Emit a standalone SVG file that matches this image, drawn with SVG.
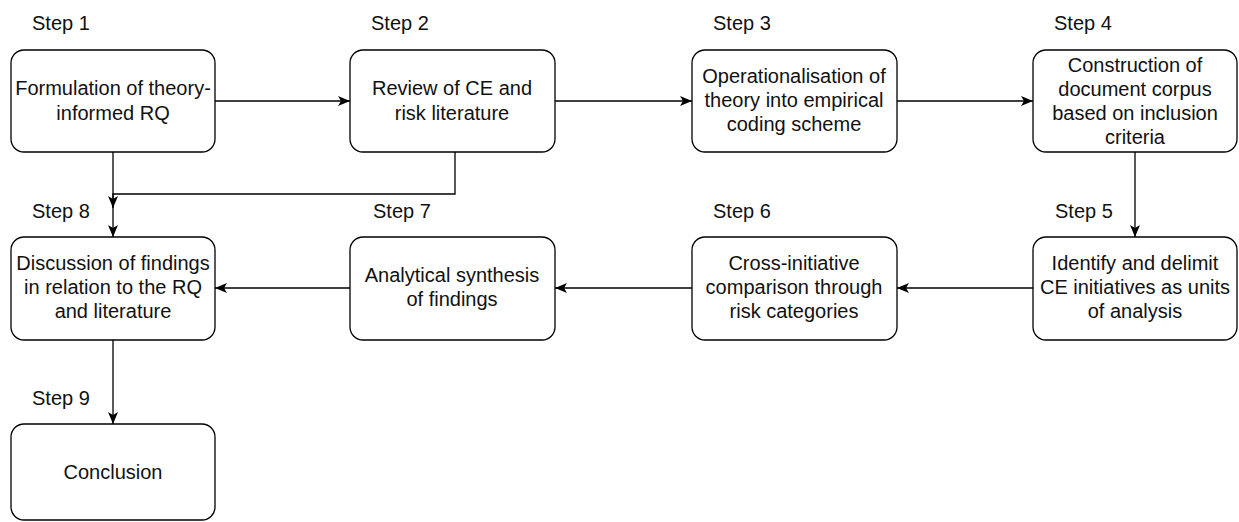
<svg xmlns="http://www.w3.org/2000/svg" width="1239" height="522" viewBox="0 0 1239 522">
<style>
.box{fill:#fff;stroke:#000;stroke-width:1.3}
.t{font-family:"Liberation Sans",Arial,sans-serif;font-size:20px;fill:#111;text-anchor:middle}
.s{font-family:"Liberation Sans",Arial,sans-serif;font-size:20px;fill:#111}
.e{fill:none;stroke:#000;stroke-width:1.3}
</style>
<defs>
<marker id="arr" markerUnits="userSpaceOnUse" markerWidth="13" markerHeight="11" refX="12" refY="5.5" orient="auto">
<path d="M0,0.5 L12,5.5 L0,10.5 L3,5.5 Z" fill="#000"/>
</marker>
</defs>
<rect width="1239" height="522" fill="#fff"/>
<g id="labels">
<text class="s" x="32" y="30">Step 1</text>
<text class="s" x="371" y="30">Step 2</text>
<text class="s" x="713" y="30">Step 3</text>
<text class="s" x="1054" y="30">Step 4</text>
<text class="s" x="1055" y="218">Step 5</text>
<text class="s" x="713" y="218">Step 6</text>
<text class="s" x="373" y="218">Step 7</text>
<text class="s" x="32" y="218">Step 8</text>
<text class="s" x="32" y="405">Step 9</text>
</g>
<g id="connectors">
<line class="e" x1="215" y1="101" x2="350" y2="101" marker-end="url(#arr)"/>
<line class="e" x1="555" y1="101" x2="692" y2="101" marker-end="url(#arr)"/>
<line class="e" x1="897" y1="101" x2="1033" y2="101" marker-end="url(#arr)"/>
<line class="e" x1="1135" y1="152" x2="1135" y2="237" marker-end="url(#arr)"/>
<line class="e" x1="1033" y1="288" x2="897" y2="288" marker-end="url(#arr)"/>
<line class="e" x1="692" y1="288" x2="555" y2="288" marker-end="url(#arr)"/>
<line class="e" x1="350" y1="288" x2="215" y2="288" marker-end="url(#arr)"/>
<line class="e" x1="113" y1="152" x2="113" y2="237" marker-end="url(#arr)"/>
<polyline class="e" points="455,152 455,194 113,194 113,208" marker-end="url(#arr)"/>
<line class="e" x1="113" y1="340" x2="113" y2="424" marker-end="url(#arr)"/>
</g>
<g id="n1"><rect class="box" x="11" y="50" width="204" height="102" rx="13"/>
<text class="t" x="113" y="95">Formulation of theory-</text><text class="t" x="113" y="120">informed RQ</text></g>
<g id="n2"><rect class="box" x="350" y="50" width="205" height="102" rx="13"/>
<text class="t" x="452" y="95">Review of CE and</text><text class="t" x="452" y="120">risk literature</text></g>
<g id="n3"><rect class="box" x="692" y="50" width="205" height="102" rx="13"/>
<text class="t" x="794" y="83">Operationalisation of</text><text class="t" x="794" y="107">theory into empirical</text><text class="t" x="794" y="131">coding scheme</text></g>
<g id="n4"><rect class="box" x="1033" y="50" width="204" height="102" rx="13"/>
<text class="t" x="1135" y="72">Construction of</text><text class="t" x="1135" y="96">document corpus</text><text class="t" x="1135" y="120">based on inclusion</text><text class="t" x="1135" y="144">criteria</text></g>
<g id="n5"><rect class="box" x="1033" y="237" width="204" height="103" rx="13"/>
<text class="t" x="1135" y="270">Identify and delimit</text><text class="t" x="1135" y="294">CE initiatives as units</text><text class="t" x="1135" y="318">of analysis</text></g>
<g id="n6"><rect class="box" x="692" y="237" width="205" height="103" rx="13"/>
<text class="t" x="794" y="270">Cross-initiative</text><text class="t" x="794" y="294">comparison through</text><text class="t" x="794" y="318">risk categories</text></g>
<g id="n7"><rect class="box" x="350" y="237" width="205" height="103" rx="13"/>
<text class="t" x="452" y="282">Analytical synthesis</text><text class="t" x="452" y="306">of findings</text></g>
<g id="n8"><rect class="box" x="11" y="237" width="204" height="103" rx="13"/>
<text class="t" x="113" y="270">Discussion of findings</text><text class="t" x="113" y="294">in relation to the RQ</text><text class="t" x="113" y="318">and literature</text></g>
<g id="n9"><rect class="box" x="11" y="424" width="204" height="96" rx="13"/>
<text class="t" x="113" y="479">Conclusion</text></g>
</svg>
